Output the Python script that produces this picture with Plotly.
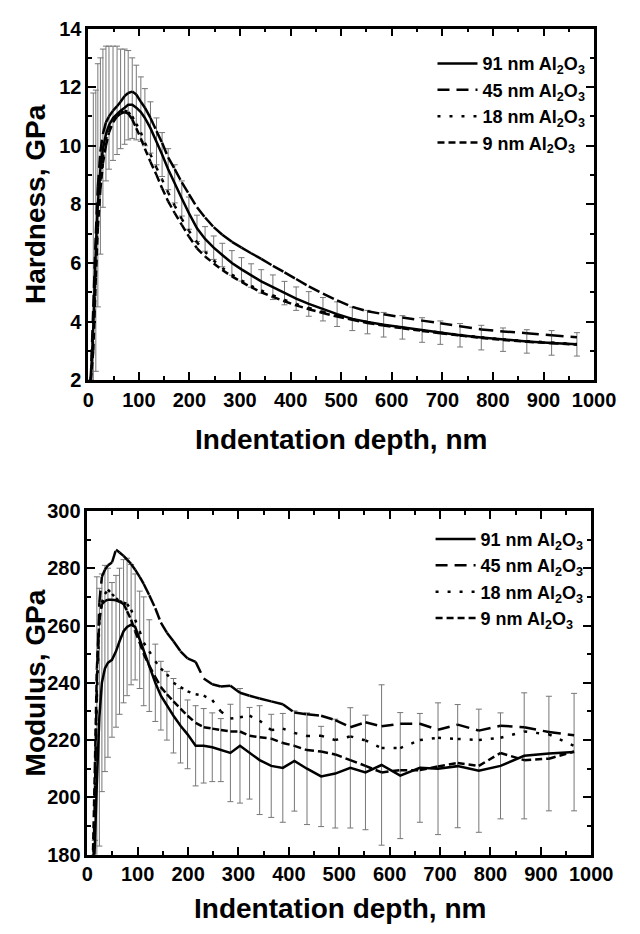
import plotly.graph_objects as go

# ---------------- data ----------------
depth = [5, 10, 15, 19, 24, 29, 35, 41, 49, 57,
         64, 72, 79, 87, 95, 104, 112, 123, 135, 146,
         158, 171, 185, 199, 215, 231, 248, 265, 284, 303,
         322, 342, 365, 388, 411, 436, 464, 492, 522, 552,
         584, 621, 660, 696, 735, 777, 820, 867, 916, 966]

series_names = ["91 nm Al<sub>2</sub>O<sub>3</sub>", "45 nm Al<sub>2</sub>O<sub>3</sub>",
                "18 nm Al<sub>2</sub>O<sub>3</sub>", "9 nm Al<sub>2</sub>O<sub>3</sub>"]

hard_91 = [2.0, 3.8, 6.5, 8.0, 9.2, 9.9, 10.4, 10.7, 10.95, 11.1,
           11.2, 11.3, 11.4, 11.4, 11.3, 11.15, 10.95, 10.6, 10.15, 9.7,
           9.2, 8.7, 8.2, 7.7, 7.18, 6.82, 6.52, 6.27, 6.0, 5.78,
           5.57, 5.37, 5.17, 4.97, 4.78, 4.6, 4.42, 4.25, 4.09, 3.98,
           3.89, 3.8, 3.71, 3.62, 3.53, 3.45, 3.38, 3.32, 3.27, 3.22]
hard_45 = [2.0, 4.5, 7.0, 8.6, 9.8, 10.4, 10.8, 11.0, 11.2, 11.35,
           11.5, 11.7, 11.8, 11.85, 11.75, 11.5, 11.3, 10.95, 10.5, 10.1,
           9.6, 9.2, 8.75, 8.35, 7.9, 7.55, 7.22, 6.96, 6.72, 6.52,
           6.33, 6.14, 5.9, 5.68, 5.45, 5.2, 4.95, 4.72, 4.5, 4.35,
           4.25, 4.14, 4.03, 3.94, 3.84, 3.73, 3.66, 3.6, 3.53, 3.46]
hard_18 = [2.0, 3.5, 6.0, 7.6, 8.8, 9.6, 10.2, 10.6, 10.9, 11.05,
           11.15, 11.2, 11.15, 11.0, 10.75, 10.45, 10.1, 9.7, 9.25, 8.85,
           8.4, 7.95, 7.5, 7.1, 6.7, 6.38, 6.08, 5.83, 5.6, 5.4,
           5.22, 5.06, 4.89, 4.74, 4.6, 4.46, 4.33, 4.2, 4.08, 3.98,
           3.88, 3.79, 3.7, 3.62, 3.54, 3.46, 3.39, 3.33, 3.28, 3.23]
hard_9 = [2.0, 3.0, 5.5, 7.2, 8.5, 9.4, 10.0, 10.45, 10.8, 11.0,
          11.1, 11.15, 11.1, 10.9, 10.6, 10.25, 9.9, 9.45, 9.0, 8.55,
          8.1, 7.7, 7.3, 6.9, 6.5, 6.22, 5.98, 5.76, 5.54, 5.35,
          5.17, 5.0, 4.84, 4.69, 4.55, 4.42, 4.29, 4.17, 4.06, 3.95,
          3.86, 3.77, 3.68, 3.6, 3.52, 3.44, 3.37, 3.31, 3.26, 3.21]
hard_91_err_up = [0.0, 8.0, 5.4, 4.8, 3.8, 3.4, 3.0, 2.7, 2.45, 2.3,
                  2.1, 2.0, 1.85, 1.6, 1.45, 1.2, 1.0, 0.9, 0.8, 0.75,
                  0.7, 0.65, 0.6, 0.55, 0.45, 0.42, 0.4, 0.4, 0.42, 0.4,
                  0.4, 0.4, 0.42, 0.4, 0.4, 0.42, 0.4, 0.42, 0.4, 0.4,
                  0.42, 0.4, 0.42, 0.4, 0.4, 0.42, 0.4, 0.4, 0.42, 0.4]
hard_91_err_dn = [0.0, 3.0, 4.2, 3.5, 2.9, 2.0, 1.6, 1.5, 1.45, 1.4,
                  1.3, 1.25, 1.2, 1.15, 1.1, 1.0, 0.95, 0.85, 0.8, 0.75,
                  0.7, 0.65, 0.6, 0.55, 0.45, 0.42, 0.4, 0.4, 0.42, 0.4,
                  0.4, 0.4, 0.42, 0.4, 0.4, 0.42, 0.4, 0.42, 0.4, 0.4,
                  0.42, 0.4, 0.42, 0.4, 0.4, 0.42, 0.4, 0.4, 0.42, 0.4]

mod_91 = [130, 160, 185, 205, 228, 240, 245, 247, 248, 251,
          254.5, 258, 259.5, 260.3, 259.5, 255, 251, 246, 240, 235.5,
          232, 228.5, 225, 222, 218, 218, 217.5, 216.5, 215.5, 218,
          215.4, 213, 211, 210.3, 212.7, 210, 207.3, 208.3, 210.3, 208.7,
          211.3, 207.6, 210.3, 210, 210.9, 209.3, 211, 214.5, 215.3, 215.8]
mod_45 = [120, 160, 200, 240, 268, 277, 279.5, 281, 282, 286.5,
          285.5, 284.3, 283, 281.5, 279.5, 277, 274.5, 270.6, 266, 261,
          257.5, 254.5, 251, 248.5, 247.3, 241.5, 239.5, 238.7, 239, 236.5,
          235.5, 234.5, 233.5, 232.5, 229.6, 229, 228.5, 227, 224.5, 226.2,
          224.8, 225.7, 225.7, 223.6, 225.4, 223.3, 225, 224.5, 222.8, 221.7]
mod_18 = [120, 160, 200, 235, 262, 268, 271, 272.5, 271, 269.5,
          268.5, 268, 267.5, 265.5, 262, 258, 254, 251, 247.5, 245,
          243, 240, 238.5, 237, 236, 235.5, 234, 230, 227.5, 228,
          228.5, 226.8, 223.5, 224, 222.5, 221.4, 221.5, 220, 221.3, 219.9,
          217.2, 217.2, 220, 220.8, 220.4, 220, 220.8, 223, 222, 218]
mod_9 = [130, 170, 210, 245, 262, 267.5, 268.5, 269, 269, 268.8,
         268.3, 267.5, 265, 262, 258, 254, 250, 246, 242, 238.5,
         236, 233.5, 231, 228.5, 226, 224.5, 224, 223.5, 223, 223,
         221.5, 221, 220.5, 219, 218, 216.5, 216, 215, 213, 211,
         208.7, 209.5, 209.5, 210.8, 212, 211, 215.5, 213, 213.5, 216]
mod_91_err = [0, 0, 0, 72, 45, 38, 36, 33, 27, 26.5,
              25.5, 25, 24, 21, 18.5, 17, 19, 16, 13.5, 12,
              12, 13, 13, 12, 14, 13, 12, 11, 17, 20,
              16, 19, 18, 19, 17.5, 19.5, 17.5, 19, 21, 20,
              28, 22, 19, 23, 21.5, 21.5, 18.5, 22, 20, 20.5]

# ---------------- styling ----------------
FONT = "Liberation Sans"
W, H = 640, 934
styles = [dict(dash="solid", split=False),
          dict(dash="12px,7px", split=True),
          dict(dash="3px,9px", split=True),
          dict(dash="7px,4px", split=True)]


def segments(x, y):
    """Split into one sub-path per data interval (dash pattern restarts on each)."""
    xs, ys = [], []
    for i in range(len(x) - 1):
        xs += [x[i], x[i + 1], None]
        ys += [y[i], y[i + 1], None]
    return xs, ys


fig = go.Figure()

# error bars (91 nm) drawn first, underneath the lines
fig.add_trace(go.Scatter(x=depth, y=hard_91, mode="markers",
                         marker=dict(size=2, color="rgba(0,0,0,0)"),
                         error_y=dict(type="data", array=hard_91_err_up, arrayminus=hard_91_err_dn,
                                      symmetric=False, color="#777777", thickness=1, width=3),
                         showlegend=False, hoverinfo="skip", xaxis="x", yaxis="y"))
fig.add_trace(go.Scatter(x=depth, y=mod_91, mode="markers",
                         marker=dict(size=2, color="rgba(0,0,0,0)"),
                         error_y=dict(type="data", array=mod_91_err, color="#777777",
                                      thickness=1, width=3),
                         showlegend=False, hoverinfo="skip", xaxis="x2", yaxis="y2"))

for vals_list, xa, ya, leg in [([hard_91, hard_45, hard_18, hard_9], "x", "y", "legend"),
                               ([mod_91, mod_45, mod_18, mod_9], "x2", "y2", "legend2")]:
    for name, vals, st in zip(series_names, vals_list, styles):
        if st["split"]:
            xs, ys = segments(depth, vals)
        else:
            xs, ys = depth, vals
        fig.add_trace(go.Scatter(x=xs, y=ys, mode="lines", name=name,
                                 line=dict(color="black", width=2.5, dash=st["dash"]),
                                 connectgaps=False, xaxis=xa, yaxis=ya, legend=leg,
                                 hoverinfo="skip"))

tickfont = dict(family=FONT, size=20, color="black", weight="bold")
common_x = dict(range=[0, 1000], dtick=100, tick0=0, ticks="inside", ticklen=8, tickwidth=2,
                tickcolor="black", showline=True, linewidth=2.5, linecolor="black",
                mirror="ticks", showgrid=False, zeroline=False, tickfont=tickfont,
                minor=dict(ticks="inside", ticklen=4, tickwidth=2, dtick=50, tickcolor="black",
                           showgrid=False))
common_y = dict(ticks="inside", ticklen=8, tickwidth=2, tickcolor="black", showline=True,
                linewidth=2.5, linecolor="black", mirror="ticks", showgrid=False, zeroline=False,
                tickfont=tickfont)

legfont = dict(family=FONT, size=18, color="black", weight="bold")

fig.update_layout(
    width=W, height=H, margin=dict(l=0, r=0, t=0, b=0),
    paper_bgcolor="white", plot_bgcolor="white",
    xaxis=dict(domain=[86 / W, 615 / W], anchor="y", **common_x),
    yaxis=dict(domain=[1 - 378 / H, 1 - 18 / H], anchor="x", range=[2, 14], dtick=2, tick0=2,
               minor=dict(ticks="inside", ticklen=4, tickwidth=2, dtick=1, tickcolor="black"),
               **common_y),
    xaxis2=dict(domain=[85 / W, 612 / W], anchor="y2", **common_x),
    yaxis2=dict(domain=[1 - 864 / H, 1 - 512 / H], anchor="x2", range=[180, 300], dtick=20, tick0=180,
                minor=dict(ticks="inside", ticklen=4, tickwidth=2, dtick=10, tickcolor="black"),
                **common_y),
    legend=dict(x=446 / W, y=1 - 35 / H, xanchor="left", yanchor="top", font=legfont,
                bgcolor="rgba(0,0,0,0)", itemwidth=40, tracegroupgap=0),
    legend2=dict(x=444 / W, y=1 - 522 / H, xanchor="left", yanchor="top", font=legfont,
                 bgcolor="rgba(0,0,0,0)", itemwidth=40, tracegroupgap=0),
    showlegend=True,
)

titlefont = dict(family=FONT, size=28, color="black", weight="bold")
annos = [
    dict(text="Indentation depth, nm", x=350 / W, y=1 - 439 / H),
    dict(text="Indentation depth, nm", x=349 / W, y=1 - 919 / H),
    dict(text="Hardness, GPa", x=31 / W, y=1 - 198 / H, textangle=-90),
    dict(text="Modulus, GPa", x=31 / W, y=1 - 688 / H, textangle=-90),
]
for a in annos:
    fig.add_annotation(xref="paper", yref="paper", showarrow=False, font=titlefont,
                       xanchor="center", yanchor="middle", **a)

fig.write_html("out.html")
